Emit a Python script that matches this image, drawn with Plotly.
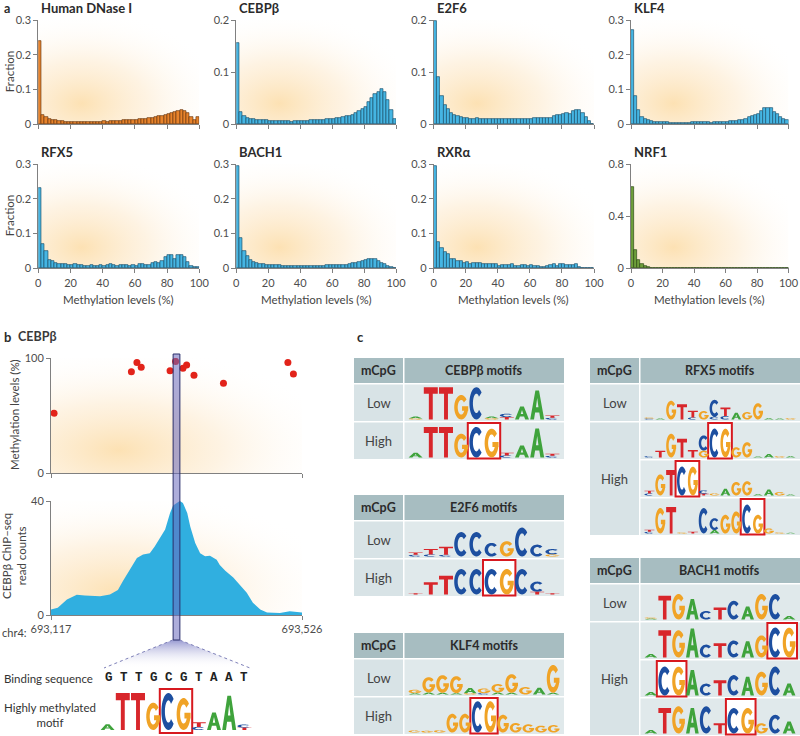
import base64
import re
import numpy as np
import plotly.graph_objects as go

W, H = 800, 736
FONT = "Lato, 'Open Sans', sans-serif"
INK = "#2b2b2b"
AXIS = "#808080"

# ---- a: distribution of methylation levels at bound sites (2% bins) ----
BIN_CENTERS = list(range(1, 100, 2))

DNASE = [0.240, 0.028, 0.020, 0.016, 0.013, 0.011, 0.009, 0.009, 0.008, 0.008,
         0.008, 0.008, 0.008, 0.008, 0.007, 0.008, 0.008, 0.008, 0.008, 0.008,
         0.009, 0.008, 0.009, 0.010, 0.009, 0.010, 0.011, 0.011, 0.012, 0.012,
         0.013, 0.014, 0.015, 0.016, 0.017, 0.019, 0.021, 0.023, 0.024, 0.026,
         0.030, 0.033, 0.035, 0.037, 0.040, 0.037, 0.032, 0.022, 0.012, 0.020]
CEBPB = [0.155, 0.023, 0.015, 0.012, 0.011, 0.010, 0.009, 0.009, 0.008, 0.008,
         0.007, 0.007, 0.007, 0.007, 0.006, 0.006, 0.006, 0.005, 0.006, 0.006,
         0.007, 0.007, 0.007, 0.008, 0.008, 0.008, 0.009, 0.009, 0.010, 0.011,
         0.011, 0.012, 0.013, 0.014, 0.015, 0.015, 0.018, 0.022, 0.026, 0.030,
         0.034, 0.042, 0.050, 0.058, 0.062, 0.068, 0.062, 0.046, 0.028, 0.010]
E2F6 = [0.198, 0.090, 0.055, 0.037, 0.029, 0.022, 0.017, 0.015, 0.014, 0.013,
        0.012, 0.011, 0.011, 0.012, 0.010, 0.010, 0.010, 0.010, 0.010, 0.010,
        0.010, 0.010, 0.010, 0.010, 0.010, 0.010, 0.010, 0.010, 0.010, 0.010,
        0.011, 0.012, 0.013, 0.013, 0.013, 0.013, 0.013, 0.016, 0.017, 0.018,
        0.020, 0.021, 0.020, 0.026, 0.028, 0.028, 0.022, 0.014, 0.006, 0.001]
KLF4 = [0.272, 0.080, 0.040, 0.020, 0.015, 0.012, 0.009, 0.007, 0.006, 0.006,
        0.007, 0.006, 0.005, 0.005, 0.005, 0.005, 0.004, 0.004, 0.005, 0.006,
        0.007, 0.006, 0.006, 0.007, 0.006, 0.005, 0.006, 0.006, 0.007, 0.007,
        0.008, 0.009, 0.010, 0.010, 0.011, 0.013, 0.016, 0.020, 0.025, 0.027,
        0.030, 0.037, 0.046, 0.047, 0.046, 0.036, 0.030, 0.020, 0.014, 0.011]
RFX5 = [0.232, 0.069, 0.049, 0.023, 0.020, 0.016, 0.013, 0.012, 0.011, 0.010,
        0.010, 0.011, 0.010, 0.010, 0.008, 0.008, 0.009, 0.008, 0.007, 0.010,
        0.008, 0.009, 0.011, 0.010, 0.008, 0.009, 0.010, 0.009, 0.008, 0.009,
        0.008, 0.012, 0.011, 0.010, 0.010, 0.016, 0.017, 0.016, 0.020, 0.032,
        0.037, 0.038, 0.026, 0.038, 0.038, 0.032, 0.017, 0.007, 0.003, 0.005]
BACH1 = [0.295, 0.087, 0.050, 0.035, 0.025, 0.018, 0.014, 0.012, 0.011, 0.010,
         0.010, 0.009, 0.009, 0.009, 0.008, 0.008, 0.008, 0.007, 0.007, 0.007,
         0.007, 0.006, 0.006, 0.007, 0.007, 0.007, 0.008, 0.008, 0.009, 0.009,
         0.009, 0.010, 0.010, 0.010, 0.010, 0.012, 0.014, 0.016, 0.018, 0.021,
         0.024, 0.028, 0.027, 0.026, 0.022, 0.016, 0.011, 0.006, 0.003, 0.002]
RXRA = [0.295, 0.075, 0.058, 0.047, 0.040, 0.028, 0.027, 0.021, 0.020, 0.015,
        0.018, 0.013, 0.015, 0.014, 0.014, 0.012, 0.012, 0.011, 0.012, 0.012,
        0.008, 0.009, 0.010, 0.010, 0.011, 0.007, 0.008, 0.009, 0.009, 0.008,
        0.010, 0.007, 0.006, 0.004, 0.004, 0.008, 0.009, 0.011, 0.008, 0.011,
        0.013, 0.010, 0.009, 0.010, 0.012, 0.004, 0.002, 0.001, 0.001, 0.001]
NRF1 = [0.62, 0.14, 0.065, 0.035, 0.018, 0.010, 0.006, 0.004, 0.003, 0.002,
        0.002, 0.001, 0.001, 0, 0, 0, 0, 0, 0, 0,
        0, 0, 0, 0, 0, 0, 0, 0, 0, 0,
        0, 0, 0, 0, 0, 0, 0, 0, 0, 0,
        0, 0, 0, 0, 0, 0, 0, 0, 0, 0]

HIST_TITLES = ["Human DNase I", "CEBPβ", "E2F6", "KLF4", "RFX5", "BACH1", "RXRα", "NRF1"]
HIST_SERIES = [DNASE, CEBPB, E2F6, KLF4, RFX5, BACH1, RXRA, NRF1]
HIST_YTICKS = [[0, 0.1, 0.2, 0.3], [0, 0.1, 0.2], [0, 0.1, 0.2], [0, 0.1, 0.2, 0.3],
               [0, 0.1, 0.2, 0.3], [0, 0.1, 0.2, 0.3], [0, 0.1, 0.2, 0.3], [0, 0.4, 0.8]]
METH_TICKS = [0, 20, 40, 60, 80, 100]

# ---- b: CEBPβ locus on chr4 ----
LOCUS = (693117, 693526)
CPG_POS = [693122, 693248, 693257, 693264, 693311, 693320, 693332, 693338, 693350, 693398, 693503, 693512]
CPG_METH = [52, 88, 96, 92, 89, 97, 91, 94, 85, 78, 96, 86]
CHIP_POS = [693117, 693128, 693143, 693159, 693172, 693197, 693213, 693226, 693234, 693242,
            693251, 693257, 693267, 693278, 693286, 693295, 693303, 693311, 693316, 693322,
            693327, 693332, 693339, 693344, 693352, 693360, 693368, 693376, 693387, 693392,
            693401, 693414, 693425, 693436, 693446, 693458, 693469, 693490, 693506, 693523, 693526]
CHIP_READS = [1.9, 2.5, 5.4, 7.1, 6.8, 6.6, 7.2, 8.8, 11.8, 14.7,
              18.0, 20.0, 21.2, 21.7, 24.0, 27.4, 30.0, 35.8, 38.4, 39.3,
              40.0, 39.3, 35.8, 31.0, 25.3, 21.7, 20.6, 20.8, 19.4, 17.5,
              15.5, 13.2, 10.5, 7.8, 4.3, 1.9, 0.9, 0.7, 1.3, 0.9, 0.9]
HIGHLIGHT = (693316, 693327)
BINDING_SEQ = "GTTGCGTAAT"

# ---- sequence logos: each column is letters with relative heights (%) ----
B_MOTIF = "A15 T95 T95 G70 C95 G82 C08T12 A45 A88 T06C08"
B_MOTIF_BOX = (4, 5)

CEBPB_LOW = "G03A06 T95 T95 G72 C95 G04A05 C10T07 A38 A85 C05T07"
CEBPB_HIGH = ["A14 T90 T90 G70 C90 G85 C06T08 A35 A85 C05T06"]
CEBPB_BOXES = [(4, 5)]
E2F6_LOW = "C05T07 C06T16 C05T24 C72 C72 C40 G45 C85 C35 G06C16"
E2F6_HIGH = ["T04 T36 T55 C75 C75 C75 G75 C75 T08C30 T04"]
E2F6_BOXES = [(5, 6)]
KLF4_LOW = "A04G10 A06G45 A05G52 A04G50 G04A15 C04G14 A06G25 A05G55 G22 A20 A05G82"
KLF4_HIGH = ["G06 G05 G07 G55 G55 C92 G92 G52 G28 G24 G20 G22"]
KLF4_BOXES = [(5, 6)]
RFX5_LOW = "C03G03 A03 G55 T45 C06T20 G25 C08C50 C10T25 A20 G22 G48 A04 A03 G04"
RFX5_HIGH = ["C04 T20 G70 T55 T22 G20C45 C85 G85 G30 G45 A03 A10 G04 A04",
             "C06T08 G62 T75 C85 G85 C10T05 G06 A20 G40 G42 A04 A18 G10 A03",
             "C05T06 G75 T78 G03 T05 C75 A10C35 G55 G65 C85 G55 G15 G03 A02"]
RFX5_BOXES = [(6, 7), (3, 4), (9, 10)]
BACH1_LOW = "A03G03 T70 G75 A60 C25 T35 C55 A38 G75 C75 A10"
BACH1_HIGH = ["A10 T80 G80 A85 C38 T42 C50 A48 G65 C88 G88",
              "A10 C85 G85 A75 C35 T45 C60 A55 G70 C85 A35",
              "A10 T75 G80 A75 C80 T30 C75 G75 G30 C55 A35"]
BACH1_BOXES = [(9, 10), (1, 2), (6, 7)]

LETTER_COLORS = {"A": "#3FA33C", "C": "#1D4FA0", "G": "#F0A326", "T": "#D8262B"}


def fx(x):
    return x / W


def fy(y):
    return 1 - y / H


def ring(a0, a1, n=30):
    t = np.radians(np.linspace(a0, a1, n))
    outer = [(0.5 + 0.5 * np.cos(a), 0.5 + 0.5 * np.sin(a)) for a in t]
    inner = [(0.5 + 0.25 * np.cos(a), 0.5 + 0.3 * np.sin(a)) for a in t[::-1]]
    return outer + inner


GLYPHS = {
    "A": [[(0, 0), (0.27, 0), (0.35, 0.24), (0.65, 0.24), (0.73, 0), (1, 0), (0.63, 1), (0.37, 1)],
          [(0.41, 0.42), (0.5, 0.74), (0.59, 0.42)]],
    "C": [ring(42, 318)],
    "G": [ring(40, 360), [(0.56, 0.36), (1, 0.36), (1, 0.54), (0.56, 0.54)]],
    "T": [[(0.36, 0), (0.64, 0), (0.64, 0.8), (1, 0.8), (1, 1), (0, 1), (0, 0.8), (0.36, 0.8)]],
}


def parse_logo(spec):
    return [[(m[0], int(m[1:])) for m in re.findall(r"[ACGT]\d+", col)] for col in spec.split()]


def logo_shapes(spec, x0, x1, base_y, max_h):
    cols = parse_logo(spec)
    cw = (x1 - x0) / len(cols)
    paths = {c: "" for c in "ACGT"}
    for i, col in enumerate(cols):
        y = base_y
        for letter, pct in sorted(col, key=lambda t: t[1]):
            h = pct / 100 * max_h
            lx, lw = x0 + i * cw + cw * 0.04, cw * 0.92
            for poly in GLYPHS[letter]:
                pts = [(lx + u * lw, y - v * h) for u, v in poly]
                paths[letter] += "M" + "L".join(f"{fx(a):.5f},{fy(b):.5f}" for a, b in pts) + "Z"
            y -= h
    return [dict(type="path", path=p, xref="paper", yref="paper", fillcolor=LETTER_COLORS[c],
                 line=dict(width=0), fillrule="nonzero") for c, p in paths.items() if p]


def box_shape(spec, cols_sel, x0, x1, y0, y1):
    cw = (x1 - x0) / len(spec.split())
    return dict(type="rect", xref="paper", yref="paper",
                x0=fx(x0 + cols_sel[0] * cw - 1), x1=fx(x0 + (cols_sel[1] + 1) * cw + 1),
                y0=fy(y1), y1=fy(y0), fillcolor="white", line=dict(color="#D7191F", width=2))


def rect(x0, y0, x1, y1, color):
    return dict(type="rect", xref="paper", yref="paper", x0=fx(x0), x1=fx(x1), y0=fy(y1), y1=fy(y0),
                fillcolor=color, line=dict(width=0), layer="below")


def text(x, y, s, size=11, bold=False, xanchor="left", yanchor="middle", angle=0, color=INK, family=FONT):
    return dict(x=fx(x), y=fy(y), xref="paper", yref="paper", text=f"<b>{s}</b>" if bold else s,
                showarrow=False, xanchor=xanchor, yanchor=yanchor, textangle=angle,
                font=dict(size=size, color=color, family=family))


def glow(x0, y0, x1, y1):
    svg = ('<svg xmlns="http://www.w3.org/2000/svg" width="200" height="200" viewBox="0 0 200 200" '
           'preserveAspectRatio="none"><defs><radialGradient id="g" cx="0.27" cy="0.8" r="0.9">'
           '<stop offset="0" stop-color="#FCDCA6" stop-opacity="0.85"/>'
           '<stop offset="0.45" stop-color="#FDE9CB" stop-opacity="0.55"/>'
           '<stop offset="1" stop-color="#FFFFFF" stop-opacity="0"/></radialGradient></defs>'
           '<rect width="200" height="200" fill="url(#g)"/></svg>')
    src = "data:image/svg+xml;base64," + base64.b64encode(svg.encode()).decode()
    return dict(source=src, xref="paper", yref="paper", x=fx(x0), y=fy(y0), sizex=fx(x1) - fx(x0),
                sizey=fy(y0) - fy(y1), sizing="stretch", xanchor="left", yanchor="top", layer="below")


def wedge(x0, y0, x1, y1, bx0, bx1):
    w, h = x1 - x0, y1 - y0
    svg = (f'<svg xmlns="http://www.w3.org/2000/svg" width="{w}" height="{h}" viewBox="0 0 {w} {h}" '
           'preserveAspectRatio="none"><defs><linearGradient id="w" x1="0" y1="0" x2="0" y2="1">'
           '<stop offset="0" stop-color="#8587C9" stop-opacity="0.85"/>'
           '<stop offset="1" stop-color="#FFFFFF" stop-opacity="0"/></linearGradient></defs>'
           f'<polygon points="{bx0 - x0},0 {bx1 - x0},0 {w},{h} 0,{h}" fill="url(#w)"/></svg>')
    src = "data:image/svg+xml;base64," + base64.b64encode(svg.encode()).decode()
    return dict(source=src, xref="paper", yref="paper", x=fx(x0), y=fy(y0), sizex=fx(x1) - fx(x0),
                sizey=fy(y0) - fy(y1), sizing="stretch", xanchor="left", yanchor="top", layer="above")


def axis_style(**kw):
    base = dict(showgrid=False, zeroline=False, showline=True, linecolor=AXIS, linewidth=1,
                ticks="outside", ticklen=4, tickcolor=AXIS, tickwidth=1, fixedrange=True,
                automargin=False, ticklabeloverflow="allow",
                tickfont=dict(size=11, color="#4d4d4d", family=FONT))
    base.update(kw)
    return base


fig = go.Figure()
layout = {}
shapes, annotations, images = [], [], []

# ---------------- panel a ----------------
COL_X = [(38.3, 199.3), (236.3, 396.0), (433.8, 594.0), (631.0, 788.5)]
ROW_Y = [(20.0, 124.3), (164.0, 268.3)]
FILL = ["#E8832B"] + ["#45B5E3"] * 6 + ["#6E9F3B"]
EDGE = ["#6E3A10"] + ["#1C5470"] * 6 + ["#2D4A16"]

for k in range(8):
    r, c = divmod(k, 4)
    n = k + 1
    sx = "" if n == 1 else str(n)
    (x0, x1), (y0, y1) = COL_X[c], ROW_Y[r]
    fig.add_trace(go.Bar(x=BIN_CENTERS, y=HIST_SERIES[k], width=2, xaxis="x" + sx, yaxis="y" + sx,
                         marker=dict(color=FILL[k], line=dict(color=EDGE[k], width=0.7)),
                         hoverinfo="skip"))
    layout["xaxis" + sx] = axis_style(domain=[fx(x0), fx(x1)], range=[0, 100], anchor="y" + sx,
                                      tickvals=METH_TICKS, showticklabels=(r == 1))
    layout["yaxis" + sx] = axis_style(domain=[fy(y1), fy(y0)], range=[0, HIST_YTICKS[k][-1]],
                                      anchor="x" + sx, tickvals=HIST_YTICKS[k])
    images.append(glow(x0, y0, x1, y1))
    annotations.append(text(x0 + 1, y0 - 12, HIST_TITLES[k], size=13, bold=True))
    if r == 1:
        annotations.append(text((x0 + x1) / 2, 300, "Methylation levels (%)", size=11.5,
                                xanchor="center", color="#444"))

annotations.append(text(2, 8, "a", size=12.5, bold=True))
for y0, y1 in ROW_Y:
    annotations.append(text(9, (y0 + y1) / 2, "Fraction", size=11.5, angle=-90, xanchor="center",
                            yanchor="middle", color="#444"))

# ---------------- panel b ----------------
BX0, BX1 = 51.0, 302.0
TOP_Y = (358.0, 473.0)
BOT_Y = (501.0, 615.0)

fig.add_trace(go.Scatter(x=CPG_POS, y=CPG_METH, mode="markers", xaxis="x9", yaxis="y9",
                         marker=dict(size=7, color="#E2231A"), hoverinfo="skip"))
fig.add_trace(go.Scatter(x=CHIP_POS, y=CHIP_READS, mode="lines", fill="tozeroy", xaxis="x10", yaxis="y10",
                         line=dict(width=0, color="#30AFE0"), fillcolor="#30AFE0", hoverinfo="skip"))

layout["xaxis9"] = axis_style(domain=[fx(BX0), fx(BX1)], range=list(LOCUS), anchor="y9",
                              tickvals=list(LOCUS), showticklabels=False)
layout["yaxis9"] = axis_style(domain=[fy(TOP_Y[1]), fy(TOP_Y[0])], range=[0, 100], anchor="x9",
                              tickvals=[0, 100])
layout["xaxis10"] = axis_style(domain=[fx(BX0), fx(BX1)], range=list(LOCUS), anchor="y10",
                               tickvals=list(LOCUS), tickformat=",d")
layout["yaxis10"] = axis_style(domain=[fy(BOT_Y[1]), fy(BOT_Y[0])], range=[0, 40], anchor="x10",
                               tickvals=[0, 40])
images.append(glow(BX0, TOP_Y[0], BX1, TOP_Y[1]))
images.append(glow(BX0, BOT_Y[0], BX1, BOT_Y[1]))

shapes.append(dict(type="rect", xref="x9", yref="paper", x0=HIGHLIGHT[0], x1=HIGHLIGHT[1],
                   y0=fy(640), y1=fy(354), fillcolor="rgba(105,105,190,0.55)",
                   line=dict(color="#2A2E6A", width=1), layer="above"))
images.append(wedge(104, 640, 250, 668, 172.7, 179.7))
shapes.append(dict(type="line", xref="paper", yref="paper", x0=fx(172.7), y0=fy(640), x1=fx(104), y1=fy(668),
                   line=dict(color="#7E80B8", width=1, dash="dot")))
shapes.append(dict(type="line", xref="paper", yref="paper", x0=fx(179.7), y0=fy(640), x1=fx(250), y1=fy(668),
                   line=dict(color="#7E80B8", width=1, dash="dot")))

annotations += [
    text(2, 337, "b", size=13, bold=True),
    text(16, 337, "CEBPβ", size=12.5, bold=True, color="#3a3a3a"),
    text(14, 415, "Methylation levels (%)", size=11.5, angle=-90, xanchor="center", color="#444"),
    text(14, 556, "CEBPβ ChIP–seq<br>read counts", size=11.5, angle=-90, xanchor="center", color="#444"),
    text(0, 632, "chr4:", size=11, color="#444"),
    text(2, 678, "Binding sequence", size=11.5, color="#333"),
    text(2, 715, "Highly methylated<br>motif", size=11.5, color="#333"),
    text(176, 678, " ".join(BINDING_SEQ), size=12.5, bold=True, xanchor="center",
         family="'Liberation Mono', 'DejaVu Sans Mono', monospace", color="#222"),
]
shapes.append(box_shape(B_MOTIF, B_MOTIF_BOX, 100, 252, 689, 733))
shapes += logo_shapes(B_MOTIF, 100, 252, 730, 39)

# ---------------- panel c ----------------
annotations.append(text(355, 337, "c", size=13, bold=True))
HEAD_H, ROW_H, GAP = 25.0, 36.5, 1.5
TABLES = [
    ("CEBPβ motifs", 354, 564, 358, CEBPB_LOW, CEBPB_HIGH, CEBPB_BOXES),
    ("E2F6 motifs", 354, 564, 495, E2F6_LOW, E2F6_HIGH, E2F6_BOXES),
    ("KLF4 motifs", 354, 564, 633, KLF4_LOW, KLF4_HIGH, KLF4_BOXES),
    ("RFX5 motifs", 590, 800, 358, RFX5_LOW, RFX5_HIGH, RFX5_BOXES),
    ("BACH1 motifs", 590, 800, 558, BACH1_LOW, BACH1_HIGH, BACH1_BOXES),
]
cell_shapes, logo_layer = [], []
for name, left, right, top, low, highs, boxes in TABLES:
    split = left + 49
    cell_shapes.append(rect(left, top, split, top + HEAD_H, "#A7BDC1"))
    cell_shapes.append(rect(split + 1.5, top, right, top + HEAD_H, "#A7BDC1"))
    annotations.append(text((left + split) / 2, top + HEAD_H / 2, "mCpG", size=12.5, bold=True, xanchor="center"))
    annotations.append(text((split + right) / 2, top + HEAD_H / 2, name, size=12.5, bold=True, xanchor="center"))
    rows = [low] + highs
    row_tops = [top + HEAD_H + GAP + i * (ROW_H + GAP) for i in range(len(rows))]
    cell_shapes.append(rect(left, row_tops[0], split, row_tops[0] + ROW_H, "#D8E3E6"))
    annotations.append(text((left + split) / 2, row_tops[0] + ROW_H / 2, "Low", size=13, xanchor="center", color="#444"))
    hi_top, hi_bot = row_tops[1], row_tops[-1] + ROW_H
    cell_shapes.append(rect(left, hi_top, split, hi_bot, "#D8E3E6"))
    annotations.append(text((left + split) / 2, (hi_top + hi_bot) / 2, "High", size=13, xanchor="center", color="#444"))
    lx0, lx1 = split + 5, right - 4
    for i, (spec, rt) in enumerate(zip(rows, row_tops)):
        cell_shapes.append(rect(split + 1.5, rt, right, rt + ROW_H, "#E0E9EB"))
        if i > 0:
            logo_layer.append(box_shape(spec, boxes[i - 1], lx0, lx1, rt + 0.5, rt + ROW_H - 0.5))
        logo_layer += logo_shapes(spec, lx0, lx1, rt + ROW_H - 1.5, 34)

shapes = cell_shapes + shapes + logo_layer

fig.update_layout(**layout)
fig.update_layout(width=W, height=H, margin=dict(l=0, r=0, t=0, b=0, autoexpand=False), paper_bgcolor="white",
                  plot_bgcolor="rgba(0,0,0,0)", showlegend=False, bargap=0,
                  shapes=shapes, annotations=annotations, images=images,
                  font=dict(family=FONT, color=INK))
# the page's default body margin would push the 800x736 figure off the window
fig.write_html("out.html", config={"displayModeBar": False},
               post_script="document.body.style.margin='0';document.body.style.overflow='hidden';")
